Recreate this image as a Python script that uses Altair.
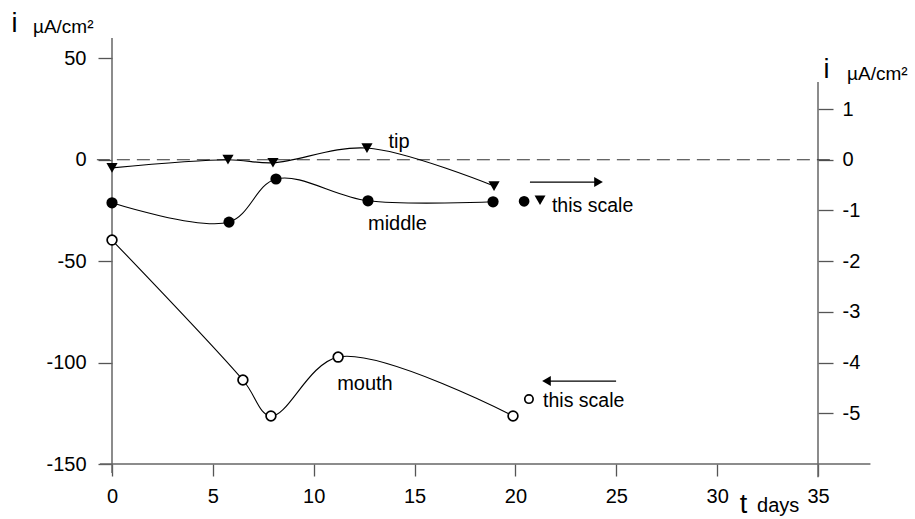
import altair as alt
import pandas as pd

FONT = "Liberation Sans"

# ---------------- data ----------------
# tip and middle are on the right-hand scale (µA/cm²), mouth on the left-hand scale
tip_days = [0.0, 5.75, 7.98, 12.64, 18.94]
tip_i = [-0.16, 0.0, -0.06, 0.23, -0.52]

middle_days = [0.0, 5.80, 8.13, 12.69, 18.89]
middle_i = [-0.85, -1.23, -0.38, -0.81, -0.83]

mouth_days = [0.0, 6.49, 7.88, 11.21, 19.88]
mouth_i = [-39.6, -108.6, -126.3, -97.3, -126.3]

x_ticks = [0, 5, 10, 15, 20, 25, 30, 35]
left_ticks = [-150, -100, -50, 0, 50]
right_ticks = [-5, -4, -3, -2, -1, 0, 1]

X_DOMAIN = [0, 35]
LEFT_DOMAIN = [-150, 60]
RIGHT_DOMAIN = [-6, 2.4]   # right scale = left scale / 25

# annotation anchors
series_labels = ["tip", "middle"]
series_label_x = [14.23, 14.15]
series_label_y = [0.23, -1.386]          # right units (baseline)
mouth_label_x = [12.54]
mouth_label_y = [-113.5]                 # left units (baseline)

note_right_x = [21.81]
note_right_y = [-1.025]
note_left_x = [21.37]
note_left_y = [-121.9]

key_mid_x = [20.43]
key_mid_y = [-0.82]
key_tip_x = [21.22]
key_tip_y = [-0.80]
key_mouth_x = [20.67]
key_mouth_y = [-118.0]

arrow_right_x = [20.72]
arrow_right_x2 = [24.12]
arrow_right_y = [-0.44]
arrow_left_x = [24.99]
arrow_left_x2 = [21.54]
arrow_left_y = [-109.1]

# axis frame lines (left units): left axis, right axis, time axis
frame_x = [0.0, 35.0, -0.6]
frame_x2 = [0.0, 35.0, 37.6]
frame_y = [60.0, 38.3, -150.0]
frame_y2 = [-154.4, -156.5, -150.0]

zero_x = [-0.75]
zero_x2 = [35.7]
zero_y = [0.0]

# titles
big_i_x = [-4.83, 35.42]
big_i_y = [62.9, 40.2]          # left units (baseline)
unit_x = [-3.92, 36.44]
unit_y = [62.4, 39.3]
t_x = [31.31]
t_y = [-174.2]
days_x = [31.98]
days_y = [-173.7]

# ---------------- scales / axes ----------------
xscale = alt.Scale(domain=X_DOMAIN, nice=False, zero=False)
lscale = alt.Scale(domain=LEFT_DOMAIN, nice=False, zero=False)
rscale = alt.Scale(domain=RIGHT_DOMAIN, nice=False, zero=False)

LABEL = "'' + datum.value"

xaxis = alt.Axis(orient="bottom", values=x_ticks, domain=False, grid=False, title=None,
                 tickSize=12, tickColor="#555555", tickWidth=1.3,
                 labelFont=FONT, labelFontSize=20, labelColor="black",
                 labelPadding=10, labelFlush=False, labelExpr=LABEL)
laxis = alt.Axis(orient="left", values=left_ticks, domain=False, grid=False, title=None,
                 tickSize=14, tickColor="#555555", tickWidth=1.3,
                 labelFont=FONT, labelFontSize=20, labelColor="black",
                 labelPadding=12, labelExpr=LABEL)
raxis = alt.Axis(orient="right", values=right_ticks, domain=False, grid=False, title=None,
                 tickSize=15, tickColor="#555555", tickWidth=1.3,
                 labelFont=FONT, labelFontSize=20, labelColor="black",
                 labelPadding=9, labelExpr=LABEL)


def X(f):
    return alt.X(f"{f}:Q", scale=xscale, axis=xaxis)


def YL(f):
    return alt.Y(f"{f}:Q", scale=lscale, axis=laxis)


def YR(f):
    return alt.Y(f"{f}:Q", scale=rscale, axis=raxis)


# ---------------- left-scale layers ----------------
frame_df = pd.DataFrame({"x": frame_x, "x2": frame_x2, "y": frame_y, "y2": frame_y2})
frame = alt.Chart(frame_df).mark_rule(color="#666666", strokeWidth=1.5).encode(
    x=X("x"), x2="x2", y=YL("y"), y2="y2")

zero_df = pd.DataFrame({"x": zero_x, "x2": zero_x2, "y": zero_y})
zero_line = alt.Chart(zero_df).mark_rule(color="#333333", strokeWidth=1.1,
                                         strokeDash=[13, 7]).encode(
    x=X("x"), x2="x2", y=YL("y"))

mouth_df = pd.DataFrame({"days": mouth_days, "i": mouth_i})
mouth_line = alt.Chart(mouth_df).mark_line(color="black", strokeWidth=1.1,
                                           interpolate="catmull-rom").encode(
    x=X("days"), y=YL("i"))
mouth_pts = alt.Chart(mouth_df).mark_point(shape="circle", filled=True, fill="white",
                                           stroke="black", strokeWidth=1.7, size=95,
                                           opacity=1).encode(
    x=X("days"), y=YL("i"))

key_mouth = alt.Chart(pd.DataFrame({"x": key_mouth_x, "y": key_mouth_y})).mark_point(
    shape="circle", filled=True, fill="white", stroke="black", strokeWidth=1.7,
    size=70, opacity=1).encode(x=X("x"), y=YL("y"))

arrow_l_df = pd.DataFrame({"x": arrow_left_x, "x2": arrow_left_x2, "y": arrow_left_y})
arrow_l = alt.Chart(arrow_l_df).mark_rule(color="black", strokeWidth=1.2).encode(
    x=X("x"), x2="x2", y=YL("y"))
arrow_l_head = alt.Chart(arrow_l_df).mark_point(shape="triangle-left", filled=True,
                                                color="black", size=100, opacity=1).encode(
    x=X("x2"), y=YL("y"))

mouth_lab = alt.Chart(pd.DataFrame({"x": mouth_label_x, "y": mouth_label_y,
                                    "t": ["mouth"]})).mark_text(
    font=FONT, fontSize=20, align="center", baseline="alphabetic", color="black").encode(
    x=X("x"), y=YL("y"), text="t:N")
note_l = alt.Chart(pd.DataFrame({"x": note_left_x, "y": note_left_y,
                                 "t": ["this scale"]})).mark_text(
    font=FONT, fontSize=19.5, align="left", baseline="alphabetic", color="black").encode(
    x=X("x"), y=YL("y"), text="t:N")

big_i = alt.Chart(pd.DataFrame({"x": big_i_x, "y": big_i_y, "t": ["i", "i"]})).mark_text(
    font=FONT, fontSize=27, align="center", baseline="alphabetic", color="black").encode(
    x=X("x"), y=YL("y"), text="t:N")
units = alt.Chart(pd.DataFrame({"x": unit_x, "y": unit_y,
                                "t": ["µA/cm²", "µA/cm²"]})).mark_text(
    font=FONT, fontSize=19, align="left", baseline="alphabetic", color="black").encode(
    x=X("x"), y=YL("y"), text="t:N")
t_lab = alt.Chart(pd.DataFrame({"x": t_x, "y": t_y, "t": ["t"]})).mark_text(
    font=FONT, fontSize=27, align="center", baseline="alphabetic", color="black").encode(
    x=X("x"), y=YL("y"), text="t:N")
days_lab = alt.Chart(pd.DataFrame({"x": days_x, "y": days_y, "t": ["days"]})).mark_text(
    font=FONT, fontSize=20, align="left", baseline="alphabetic", color="black").encode(
    x=X("x"), y=YL("y"), text="t:N")

left_group = alt.layer(frame, zero_line, mouth_line, mouth_pts, key_mouth, arrow_l,
                       arrow_l_head, mouth_lab, note_l, big_i, units, t_lab, days_lab)

# ---------------- right-scale layers ----------------
tip_df = pd.DataFrame({"days": tip_days, "i": tip_i})
mid_df = pd.DataFrame({"days": middle_days, "i": middle_i})

tip_line = alt.Chart(tip_df).mark_line(color="black", strokeWidth=1.1,
                                       interpolate="catmull-rom").encode(
    x=X("days"), y=YR("i"))
tip_pts = alt.Chart(tip_df).mark_point(shape="triangle-down", filled=True, color="black",
                                       size=125, opacity=1).encode(
    x=X("days"), y=YR("i"))
mid_line = alt.Chart(mid_df).mark_line(color="black", strokeWidth=1.1,
                                       interpolate="catmull-rom").encode(
    x=X("days"), y=YR("i"))
mid_pts = alt.Chart(mid_df).mark_point(shape="circle", filled=True, color="black",
                                       size=125, opacity=1).encode(
    x=X("days"), y=YR("i"))

key_mid = alt.Chart(pd.DataFrame({"x": key_mid_x, "y": key_mid_y})).mark_point(
    shape="circle", filled=True, color="black", size=115, opacity=1).encode(
    x=X("x"), y=YR("y"))
key_tip = alt.Chart(pd.DataFrame({"x": key_tip_x, "y": key_tip_y})).mark_point(
    shape="triangle-down", filled=True, color="black", size=120, opacity=1).encode(
    x=X("x"), y=YR("y"))

arrow_r_df = pd.DataFrame({"x": arrow_right_x, "x2": arrow_right_x2, "y": arrow_right_y})
arrow_r = alt.Chart(arrow_r_df).mark_rule(color="black", strokeWidth=1.2).encode(
    x=X("x"), x2="x2", y=YR("y"))
arrow_r_head = alt.Chart(arrow_r_df).mark_point(shape="triangle-right", filled=True,
                                                color="black", size=100, opacity=1).encode(
    x=X("x2"), y=YR("y"))

series_lab = alt.Chart(pd.DataFrame({"x": series_label_x, "y": series_label_y,
                                     "t": series_labels})).mark_text(
    font=FONT, fontSize=20, align="center", baseline="alphabetic", color="black").encode(
    x=X("x"), y=YR("y"), text="t:N")
note_r = alt.Chart(pd.DataFrame({"x": note_right_x, "y": note_right_y,
                                 "t": ["this scale"]})).mark_text(
    font=FONT, fontSize=19.5, align="left", baseline="alphabetic", color="black").encode(
    x=X("x"), y=YR("y"), text="t:N")

right_group = alt.layer(tip_line, mid_line, tip_pts, mid_pts, key_mid, key_tip,
                        arrow_r, arrow_r_head, series_lab, note_r)

chart = alt.layer(left_group, right_group).resolve_scale(y="independent").properties(
    width=706, height=426,
    autosize=alt.AutoSizeParams(type="none"),
    padding={"left": 112, "top": 38, "right": 97, "bottom": 55},
    background="white",
).configure_view(stroke=None)

chart.save("out.html", embed_options={"renderer": "svg", "actions": False})
